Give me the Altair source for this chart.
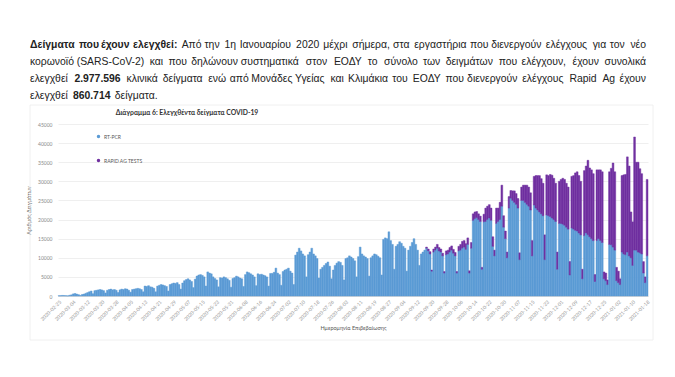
import altair as alt
import pandas as pd

# ---------------- data ----------------
start_date = "2020-02-25"
series_names = ["RT-PCR", "RAPID AG TESTS"]
series_colors = ["#5b9bd5", "#7030a0"]

# daily RT-PCR samples, one row per week (Tue..Mon)
pcr_weeks = [
    [80, 100, 150, 120, 90, 40, 200],
    [300, 550, 650, 500, 350, 150, 400],
    [500, 700, 900, 1100, 1300, 600, 1400],
    [1500, 1600, 1700, 1600, 1400, 800, 1500],
    [1700, 1800, 1600, 1700, 1500, 900, 1600],
    [1800, 1700, 1900, 1800, 1500, 1000, 1700],
    [1800, 1900, 2000, 1900, 1700, 1100, 2600],
    [2500, 2700, 2400, 2300, 2000, 1100, 2600],
    [2800, 3000, 2900, 2700, 2500, 1300, 3000],
    [3200, 3400, 3300, 3500, 3000, 1800, 3400],
    [4000, 4300, 4500, 4200, 3800, 2200, 4400],
    [5200, 5500, 5600, 5400, 5000, 2600, 6300],
    [6000, 5800, 5000, 4600, 4200, 2400, 4800],
    [4700, 5000, 4800, 4500, 4100, 2300, 4600],
    [4800, 5200, 5000, 4700, 4500, 2500, 5600],
    [6300, 6100, 5800, 5500, 5000, 2700, 5800],
    [5600, 5700, 5500, 5300, 5000, 2600, 5900],
    [5900, 6200, 7300, 6000, 5600, 2800, 6400],
    [6800, 7000, 7300, 6500, 6000, 3000, 10700],
    [11500, 12500, 11800, 11000, 10500, 5000, 10800],
    [11500, 12500, 11000, 10500, 9800, 4700, 7000],
    [7500, 8000, 8500, 8900, 7800, 4500, 6800],
    [8000, 8600, 9000, 8800, 8000, 4200, 9800],
    [10000, 10500, 10200, 9800, 9200, 5000, 10300],
    [12800, 11000, 10500, 10200, 9800, 5200, 10000],
    [10500, 11000, 10800, 10400, 10000, 5500, 14800],
    [15200, 15000, 16800, 14500, 13500, 7000, 13000],
    [13500, 14200, 13800, 13000, 12500, 6500, 12000],
    [13000, 14000, 15000, 13500, 12000, 8000, 11000],
    [11500, 12000, 12500, 11800, 11000, 6500, 11500],
    [12000, 12500, 11800, 11500, 10500, 6000, 10800],
    [11000, 11500, 12000, 11200, 10500, 6000, 11800],
    [12000, 12500, 12800, 12200, 13500, 6000, 12500],
    [19800, 20200, 20500, 20000, 19500, 7000, 19400],
    [19500, 20000, 20400, 19800, 13000, 10500, 19000],
    [19500, 20000, 23500, 18000, 15000, 10000, 23000],
    [25600, 25000, 24500, 24000, 23000, 9500, 25000],
    [25000, 24500, 24000, 23500, 22500, 10500, 23800],
    [23000, 22500, 22000, 21500, 21000, 9500, 21200],
    [21000, 20800, 20400, 20000, 19500, 7000, 19000],
    [19000, 18800, 18500, 18000, 17500, 5500, 17800],
    [17500, 17200, 17000, 16500, 16000, 4500, 15800],
    [16500, 16000, 15500, 15000, 14500, 3800, 14500],
    [15000, 14500, 14000, 4500, 4000, 3000, 13500],
    [13400, 12800, 12000, 4000, 3500, 3000, 11500],
    [11000, 10800, 11500, 10500, 10000, 8000, 12000],
    [12000, 11500, 11300, 11000, 6000, 3500, 10500],
]

# daily Rapid Ag tests, weeks before this one had none
rapid_first_week = 29
rapid_weeks = [
    [0, 0, 300, 500, 600, 300, 800],
    [800, 1000, 900, 800, 700, 400, 1000],
    [1000, 1200, 1100, 1000, 900, 400, 1200],
    [1500, 1800, 1700, 1500, 1700, 600, 1500],
    [1700, 1800, 1600, 1500, 1400, 500, 2000],
    [3500, 3500, 3500, 3200, 2500, 1500, 4000],
    [3500, 4500, 5500, 3000, 2000, 1500, 3000],
    [2000, 2500, 3000, 2800, 2500, 1800, 3500],
    [4000, 4500, 5000, 5000, 4500, 4000, 7500],
    [8500, 9000, 9500, 9200, 8500, 6500, 10500],
    [10500, 11000, 11200, 10800, 10000, 4500, 11000],
    [11500, 12000, 12000, 11500, 11000, 3500, 13500],
    [14000, 15000, 15500, 15000, 14000, 2500, 17000],
    [17500, 19500, 18000, 18000, 17500, 1800, 18500],
    [18000, 18500, 18500, 1800, 2000, 1200, 19000],
    [20000, 22000, 20500, 3500, 3000, 1500, 20000],
    [20700, 21000, 24900, 23500, 12000, 11400, 29600],
    [23000, 23500, 22000, 21000, 3000, 1500, 20000],
]

y_ticks = [0, 5000, 10000, 15000, 20000, 25000, 30000, 35000, 40000, 45000]
label_every = 8

# paragraph lines as (text, bold) pieces; the first three are justified
para_lines = [
    [("Δείγματα που έχουν ελεγχθεί:", True),
     ("Από την 1η Ιανουαρίου 2020 μέχρι σήμερα, στα εργαστήρια που διενεργούν ελέγχους για τον νέο", False)],
    [("κορωνοϊό (SARS-CoV-2) και που δηλώνουν συστηματικά στον ΕΟΔΥ το σύνολο των δειγμάτων που ελέγχουν, έχουν συνολικά", False)],
    [("ελεγχθεί", False), ("2.977.596", True),
     ("κλινικά δείγματα ενώ από Μονάδες Υγείας και Κλιμάκια του ΕΟΔΥ που διενεργούν ελέγχους Rapid Ag έχουν", False)],
    [("ελεγχθεί", False), ("860.714", True), ("δείγματα.", False)],
]
para_line_y = [45, 62, 79, 96]
para_left, para_right = 30, 646

chart_title = "Διάγραμμα 6: Ελεγχθέντα δείγματα COVID-19"
x_title = "Ημερομηνία Επιβεβαίωσης"
y_title = "Αριθμός Δειγμάτων"

# ---------------- build table ----------------
pcr = [v for w in pcr_weeks for v in w]
rapid = [0] * (7 * rapid_first_week) + [v for w in rapid_weeks for v in w]
dates = pd.date_range(start_date, periods=len(pcr), freq="D").strftime("%Y-%m-%d").tolist()

rows = []
for d, a, b in zip(dates, pcr, rapid):
    rows.append({"date": d, "series": series_names[0], "value": a, "ord": 0})
    if b > 0:
        rows.append({"date": d, "series": series_names[1], "value": b, "ord": 1})
df = pd.DataFrame(rows)
label_dates = dates[::label_every]

# layout (page coordinates -> plot coordinates)
PL, PT = 58, 124   # page position of plot origin
W, H = 590, 172

AXIS_FONT = "Lato"
TEXT_FONT = "Liberation Sans"
TEXT_SIZE = 10.4

color_scale = alt.Scale(domain=series_names, range=series_colors)

bars = alt.Chart(df).mark_bar(width={"band": 1.0}, strokeWidth=0.45).encode(
    x=alt.X(
        "date:O",
        sort=dates,
        scale=alt.Scale(paddingInner=0, paddingOuter=0),
        axis=alt.Axis(
            values=label_dates,
            labelAngle=-45,
            labelFontSize=5,
            labelColor="#9a9a9a",
            labelFont=AXIS_FONT,
            labelPadding=3,
            ticks=False,
            domainColor="#d9d9d9",
            title=x_title,
            titleFont=AXIS_FONT,
            titleFontSize=5.5,
            titleFontWeight="normal",
            titleColor="#595959",
            titlePadding=4,
        ),
    ),
    y=alt.Y(
        "value:Q",
        stack="zero",
        scale=alt.Scale(domain=[0, 45000], nice=False),
        axis=alt.Axis(
            values=y_ticks,
            format="d",
            labelFontSize=5,
            labelColor="#8a8a8a",
            labelFont=AXIS_FONT,
            labelPadding=6,
            ticks=False,
            domain=False,
            gridColor="#e8e8e8",
            gridWidth=0.7,
            title=y_title,
            titleFont=AXIS_FONT,
            titleFontSize=5.5,
            titleFontWeight="normal",
            titleColor="#595959",
            titlePadding=6,
        ),
    ),
    color=alt.Color(
        "series:N",
        scale=color_scale,
        legend=alt.Legend(
            orient="none",
            legendX=38,
            legendY=10,
            title=None,
            symbolType="circle",
            symbolSize=12,
            symbolStrokeWidth=0,
            labelFontSize=5,
            labelFont=AXIS_FONT,
            labelColor="#595959",
            rowPadding=18,
            labelOffset=3,
        ),
    ),
    stroke=alt.Stroke("series:N", scale=color_scale, legend=None),
    order=alt.Order("ord:Q", sort="ascending"),
)

one = pd.DataFrame({"k": [0]})

def txt(text, px, py, size, bold=False, align="left", color="#222222", font=TEXT_FONT, angle=0):
    return alt.Chart(one).mark_text(
        text=text,
        align=align,
        baseline="middle",
        fontSize=size,
        fontWeight="bold" if bold else "normal",
        font=font,
        color=color,
        angle=angle,
    ).encode(x=alt.value(px - PL), y=alt.value(py - PT))

# rough Arial-like advance widths (em), used only to spread justified words
def est_width(s, bold):
    w = 0.0
    for ch in s:
        if ch == " ":
            w += 0.278
        elif ch in ".,:;ιίϊ'":
            w += 0.24
        elif ch in "()-":
            w += 0.333
        elif ch.isdigit():
            w += 0.556
        elif ch.isupper():
            w += 0.68
        elif ch in "πσφψωώμ":
            w += 0.62
        else:
            w += 0.515
    return w * TEXT_SIZE * (1.05 if bold else 1.0)

layers = []
frame = alt.Chart(one).mark_rect(fill=None, stroke="#ececec", strokeWidth=0.8).encode(
    x=alt.value(30 - PL), x2=alt.value(653 - PL), y=alt.value(105 - PT), y2=alt.value(340 - PT)
)
layers.append(frame)
layers.append(bars)

space_w = 0.278 * TEXT_SIZE
for li, (line, py) in enumerate(zip(para_lines, para_line_y)):
    words = [(w, b) for piece, b in line for w in piece.split(" ")]
    widths = [est_width(w, b) for w, b in words]
    justify = li < len(para_lines) - 1
    gap = (para_right - para_left - sum(widths)) / (len(words) - 1) if justify else space_w
    gap = max(gap, 2.0)
    xcur = para_left
    for i, ((w, b), wd) in enumerate(zip(words, widths)):
        if justify and i == len(words) - 1:
            layers.append(txt(w, para_right, py, TEXT_SIZE, bold=b, align="right"))
        else:
            layers.append(txt(w, xcur, py, TEXT_SIZE, bold=b, align="left"))
        xcur += wd + gap

layers.append(txt(chart_title, 187, 113, 6.8, bold=True, align="center", color="#333333", font=AXIS_FONT))

chart = alt.layer(*layers).properties(
    width=W,
    height=H,
    padding={"left": PL - 8, "top": PT - 8, "right": 19, "bottom": 55},
    autosize=alt.AutoSizeParams(type="none"),
    background="white",
).configure_view(stroke=None)

chart.save("out.html", embed_options={"renderer": "svg", "actions": False})
